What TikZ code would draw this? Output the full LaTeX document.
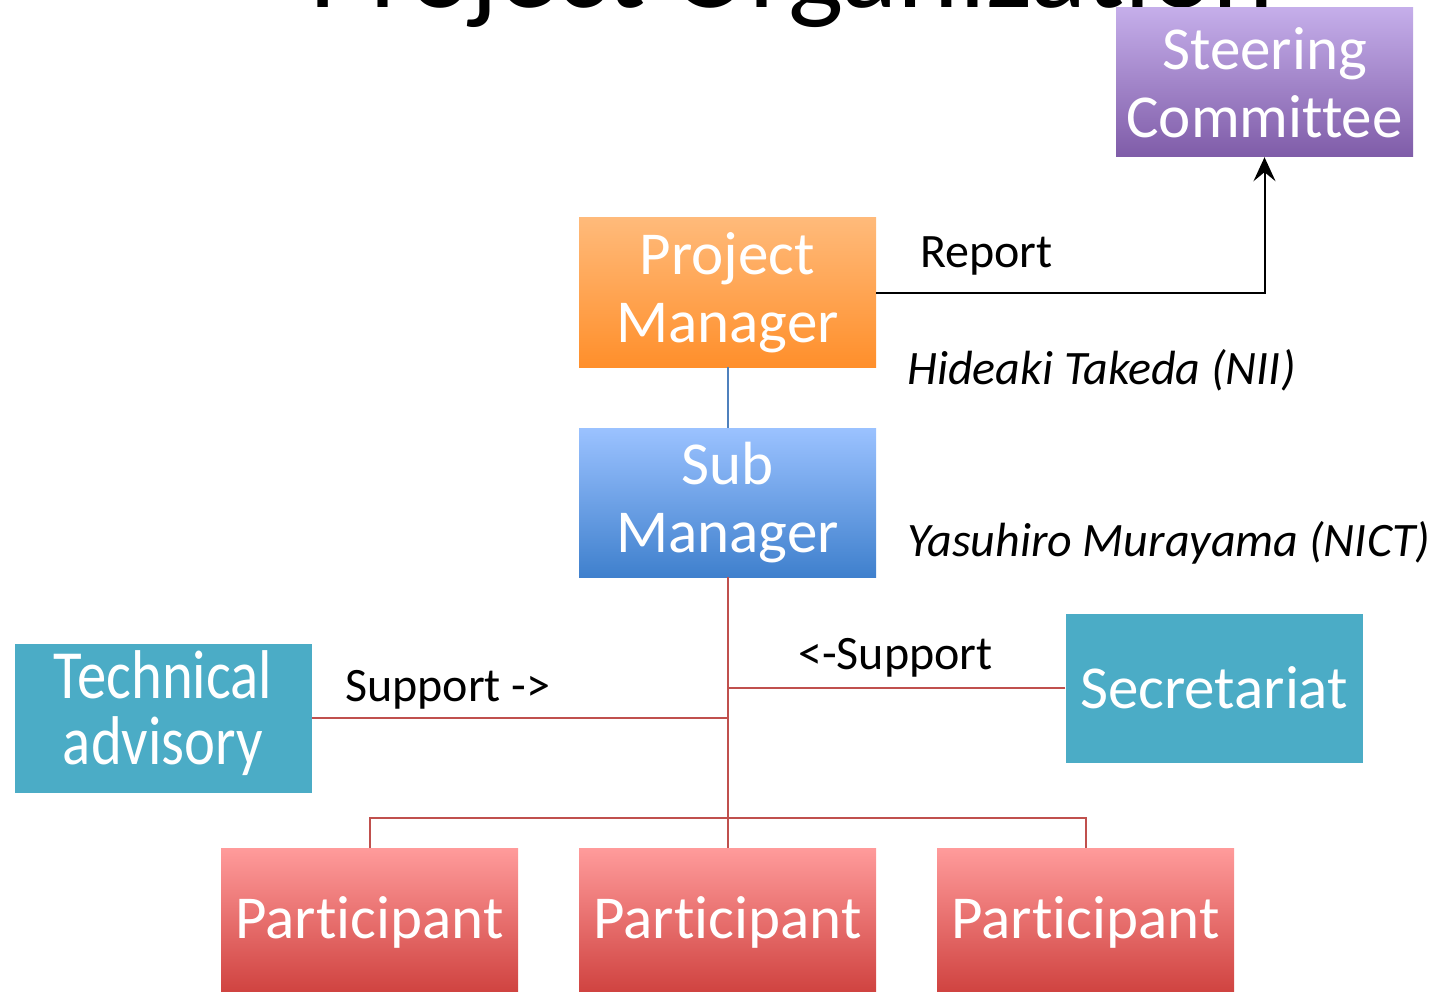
\documentclass[tikz,border=0pt]{standalone}
\usepackage{fontspec}
\setmainfont{Carlito}[Ligatures=NoCommon]
\usetikzlibrary{arrows.meta}

\definecolor{steertop}{HTML}{C5AEEA}
\definecolor{steerbot}{HTML}{7F5CA8}
\definecolor{pmtop}{HTML}{FFBA7A}
\definecolor{pmbot}{HTML}{FF8F2B}
\definecolor{smtop}{HTML}{9BC2FF}
\definecolor{smbot}{HTML}{3F80CD}
\definecolor{teal}{HTML}{4BACC6}
\definecolor{parttop}{HTML}{FF9B9B}
\definecolor{partbot}{HTML}{CE403D}
\definecolor{linered}{HTML}{C0504D}
\definecolor{lineblue}{HTML}{4F81BD}

\begin{document}
\begin{tikzpicture}[
        x=1pt, y=-1pt,
        unit/.style={rectangle, minimum width=297pt, minimum height=149pt, inner sep=0pt, align=center, text=white, font=\fontsize{61}{68}\selectfont},
        note/.style={anchor=west, inner sep=0pt, font=\fontsize{48}{56}\selectfont},
        redline/.style={draw=linered, line width=2pt},
        blueline/.style={draw=lineblue, line width=2pt},
        arrow/.style={-{Stealth[length=24pt, width=22pt, inset=9pt]}, line width=2pt}
    ]
        \useasboundingbox (0,0) rectangle (1434,992);
        \clip (0,0) rectangle (1434,992);

        \node[anchor=base, font=\fontsize{117}{117}\selectfont] (title) at (792,8) {Project Organization};

        \node[unit, top color=steertop, bottom color=steerbot] (steer) at (1264.5,82.5) {Steering\\Committee};
        \node[unit, top color=pmtop, bottom color=pmbot] (pm) at (727.5,292.5) {Project\\Manager};
        \node[unit, top color=smtop, bottom color=smbot] (sm) at (727.5,502.5) {Sub\\Manager};
        \node[unit, fill=teal] (tech) at (163,718) {\scalebox{0.85}[1]{\fontsize{69}{69}\selectfont\begin{tabular}{@{}c@{}}Technical\\[-3pt]advisory\end{tabular}}};
        \node[unit, fill=teal] (sec) at (1214,688) {Secretariat};
        \node[unit, top color=parttop, bottom color=partbot] (part1) at (369.5,922.5) {Participant};
        \node[unit, top color=parttop, bottom color=partbot] (part2) at (727.5,922.5) {Participant};
        \node[unit, top color=parttop, bottom color=partbot] (part3) at (1085.5,922.5) {Participant};

        \node[note] (report) at (920,256) {Report};
        \node[note] (pmname) at (907,370) {\itshape Hideaki Takeda (NII)};
        \node[note] (smname) at (907,543) {\itshape Yasuhiro Murayama (NICT)};
        \node[note] (secsup) at (798,658) {<-Support};
        \node[note] (techsup) at (345,690) {Support ->};

        \coordinate (bus) at (727.5,818);

        \draw[blueline] (pm.south) -- (sm.north);
        \draw[arrow] (pm.east) -| (steer.south);
        \draw[redline] (sm.south) -- (part2.north);
        \draw[redline] (tech.east) -- (tech.east -| sm.south);
        \draw[redline] (sec.west) -- (sec.west -| sm.south);
        \draw[redline] (part1.north) |- (bus) -| (part3.north);
    \end{tikzpicture}
\end{document}
